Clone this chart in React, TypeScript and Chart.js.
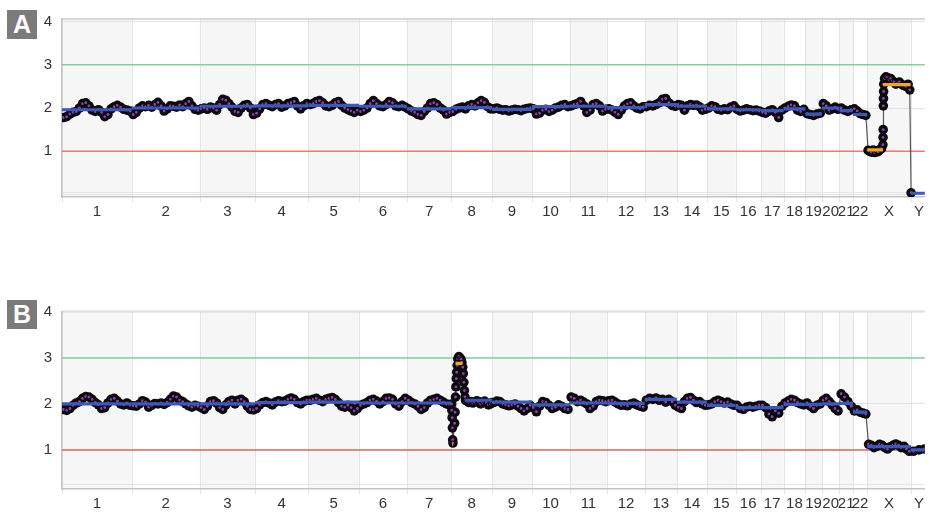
import React, { useEffect, useRef } from 'react';
import { Chart, registerables } from 'chart.js';

Chart.register(...registerables);

// ---------- axis data ----------
const chromLabels = ['1','2','3','4','5','6','7','8','9','10','11','12','13','14','15','16','17','18','19','20','21','22','X','Y'];
const chromSizes = [249.3,243.2,198.0,191.2,180.9,171.1,159.1,146.4,141.2,135.5,135.0,133.9,115.2,107.3,102.5,90.4,81.2,78.1,59.1,63.0,48.1,51.3,155.3,59.4];
const yTickValues = [0, 1, 2, 3, 4];
const xVisibleMax = 3087;
const gainLevel = 3;
const lossLevel = 1;

// ---------- panel A data (copy number per chromosome) ----------
const copyA: number[][] = [
  [1.78,1.8,1.86,1.9,1.92,2.0,2.1,2.12,2.05,1.95,1.92,1.96,1.9,1.8,1.85,1.98,2.03,2.06,2.02,1.97,1.95,1.93],
  [1.85,1.9,2.0,2.05,2.03,2.06,2.02,2.08,2.13,2.05,1.93,1.98,2.05,2.04,2.02,2.07,2.03,2.1,2.15,2.05,1.97,1.95],
  [1.98,2.0,1.97,2.02,2.0,1.95,2.08,2.2,2.18,2.1,2.02,1.92,1.9,2.0,2.06,2.08,2.0,1.85],
  [1.88,1.98,2.08,2.1,2.06,2.03,2.08,2.1,2.02,2.05,2.1,2.12,2.15,2.05,1.98,2.05,2.1],
  [2.08,2.1,2.15,2.17,2.12,2.05,2.03,2.06,2.12,2.15,2.06,2.0,1.96,1.93,1.9,1.95],
  [1.92,1.95,2.0,2.1,2.17,2.1,2.05,2.03,2.08,2.15,2.12,2.05,2.03,2.06,2.02],
  [1.98,1.93,1.9,1.85,1.83,1.92,2.0,2.1,2.12,2.08,2.0,1.95,1.86,1.9],
  [1.92,1.97,2.0,2.02,1.98,2.05,2.08,2.05,2.12,2.17,2.13,2.03,1.98],
  [1.98,2.0,1.97,1.95,1.96,1.93,1.95,1.97,1.96,1.94,1.97,1.99,2.0],
  [1.98,1.86,1.88,1.95,1.97,1.92,1.95,2.0,2.02,2.06,2.08,2.03],
  [2.05,2.08,2.1,2.15,2.05,1.9,1.95,2.08,2.1,2.05,1.93,1.97],
  [1.98,1.95,1.9,1.85,1.95,2.05,2.1,2.12,2.05,2.0,1.98,2.03],
  [2.03,2.06,2.05,2.08,2.12,2.2,2.22,2.12,2.06,2.04],
  [2.08,2.06,1.95,2.05,2.08,2.06,2.07,2.03,1.95,1.97],
  [2.0,2.05,2.03,1.97,1.95,1.98,1.96,2.02,2.05],
  [1.97,1.93,1.95,1.98,1.96,1.94,1.95,1.93],
  [1.9,1.88,1.93,1.96,1.9,1.78,1.95],
  [2.0,2.04,2.07,2.05,1.95,1.92,1.97],
  [1.87,1.85,1.83,1.86,1.88],
  [2.1,2.05,1.95,1.98,2.02,1.97],
  [2.0,1.95,1.92,1.96],
  [1.98,1.93,1.87,1.85,1.83],
  [1.02,1.0,0.98,1.03,0.97,1.0,0.99,1.04,1.06,1.15,1.32,1.5,2.05,2.22,2.38,2.55,2.68,2.72,2.7,2.65,2.68,2.62,2.6,2.55,2.58,2.6,2.55,2.52,2.5,2.55,2.42],
  [0.04],
];
const posXA = [3,9,15,21,27,33,39,45,51,56,56.5,57,57.5,58,58.5,59,62,67,73,78,84,90,96,102,108,115,122,130,138,146,152];
const posYA = [1.5];
const blueA: [string, number, number, number][] = [
  ['1',0,249.3,1.96],['2',0,243.2,2.0],['3',0,198,2.04],['4',0,191.2,2.05],['5',0,180.9,2.06],
  ['6',0,171.1,2.04],['7',0,159.1,1.98],['8',0,146.4,2.01],['9',0,141.2,1.97],['10',0,135.5,2.03],
  ['11',0,135,2.04],['12',0,133.9,2.01],['13',0,115.2,2.08],['14',0,107.3,2.04],['15',0,102.5,1.98],
  ['16',0,90.4,1.96],['17',0,81.2,1.94],['18',0,78.1,1.98],['19',0,59.1,1.86],['20',0,63,2.0],
  ['21',0,48.1,1.94],['22',0,51.3,1.85],['Y',0,59.4,0.03],
];
const orangeA: [string, number, number, number][] = [
  ['X',0,56,1.03],['X',56,155.3,2.54],
];

// ---------- panel B data ----------
const copyB: number[][] = [
  [1.88,1.86,1.9,1.97,2.02,2.05,2.12,2.16,2.15,2.1,2.03,1.98,1.9,1.92,2.02,2.1,2.12,2.06,2.0,1.98,2.02,1.97],
  [1.96,1.95,2.0,2.07,2.04,1.93,1.97,2.01,2.0,2.02,1.99,2.03,2.1,2.17,2.15,2.08,2.05,2.0,1.96,1.93,1.97,1.95],
  [1.92,1.88,1.95,2.05,2.07,2.02,1.92,1.88,1.98,2.05,2.08,2.0,2.08,2.1,2.05,1.95,1.88,1.87],
  [1.9,1.98,2.03,2.05,2.02,1.98,2.04,2.07,2.05,2.06,2.1,2.13,2.1,2.03,2.0,2.05,2.08],
  [2.08,2.1,2.12,2.08,2.05,2.1,2.12,2.14,2.1,2.03,1.95,1.93,1.97,1.92,1.85,1.9],
  [1.97,2.0,2.03,2.08,2.1,2.06,2.0,2.05,2.12,2.13,2.1,2.0,1.95,2.05,2.12],
  [2.08,2.03,2.0,1.95,1.88,1.92,2.02,2.08,2.1,2.12,2.08,2.04,2.0,1.98],
  [2.0,1.86,1.7,1.48,1.22,1.15,1.58,1.82,2.15,2.37,2.55,2.69,2.84,2.98,3.03,3.0,2.97,2.9,2.8,2.66,2.47,2.29,2.15,2.08,2.06,2.03,2.05,2.02,2.04,2.07,2.05,2.0,2.03,2.06,2.02,1.98,2.0,2.03],
  [2.03,2.06,2.05,2.0,1.98,1.96,1.98,2.0,1.95,1.9,1.85,1.9,1.97],
  [1.92,1.83,1.95,2.05,2.03,1.97,1.9,1.93,1.98,1.95,1.9,1.88],
  [2.15,2.12,2.05,2.08,2.04,2.0,1.9,1.95,2.05,2.08,2.07,2.05],
  [2.07,2.08,2.04,2.0,1.97,1.98,1.96,2.0,2.02,1.98,1.95,1.93],
  [2.08,2.12,2.1,2.13,2.08,2.1,2.04,2.1,2.05,1.97],
  [1.93,1.9,2.05,2.12,2.14,2.08,2.03,2.05,2.0,1.97],
  [1.98,2.0,2.05,2.08,2.05,2.02,2.04,2.0,1.97],
  [1.97,1.9,1.88,1.93,1.95,1.93,1.95,1.97],
  [1.97,1.92,1.78,1.72,1.85,1.8,1.95],
  [2.02,2.06,2.1,2.08,2.03,2.0,1.98],
  [2.02,1.95,1.9,1.97,2.0],
  [2.08,2.12,2.05,1.98,1.9,1.85],
  [2.22,2.15,2.05,1.95],
  [1.85,1.87,1.82,1.8,1.78],
  [1.12,1.1,1.05,1.08,1.12,1.1,1.05,1.02,1.07,1.1,1.13,1.1,1.05,1.08,1.02,0.97],
  [0.97,1.0,1.02],
];
const pos8B = [1,2,3,4,5,6,12,13.5,15,16.5,18,19.5,21,23,27,31,35,38,41,43,45,47,49,51,56,63,70,77,84,91,98,105,112,119,126,133,140,145];
const blueB: [string, number, number, number][] = [
  ['1',0,249.3,2.0],['2',0,243.2,2.0],['3',0,198,2.0],['4',0,191.2,2.03],['5',0,180.9,2.04],
  ['6',0,171.1,2.02],['7',0,159.1,2.02],['8',50,146.4,2.08],['9',0,141.2,2.04],['10',0,135.5,1.98],
  ['11',0,135,2.02],['12',0,133.9,2.01],['13',0,115.2,2.1],['14',0,107.3,2.04],['15',0,102.5,1.97],
  ['16',0,90.4,1.92],['17',0,81.2,1.92],['18',0,78.1,1.99],['19',0,59.1,1.99],['20',0,63,2.0],
  ['21',0,48.1,2.01],['22',0,51.3,1.82],['X',0,155.3,1.07],['Y',0,59.4,1.0],
];
const orangeB: [string, number, number, number][] = [
  ['8',3.5,6.5,1.12],['8',15,40,2.88],
];

// ---------- helpers ----------
const offsets: number[] = chromSizes.map((_, i) => chromSizes.slice(0, i).reduce((a, b) => a + b, 0));
const centers = offsets.map((o, i) => o + chromSizes[i] / 2);

function buildPoints(values: number[][], positions: Record<string, number[]>) {
  const pts: { x: number; y: number }[] = [];
  values.forEach((vals, i) => {
    const label = chromLabels[i];
    const p = positions[label] || vals.map((_, j) => ((j + 0.5) / vals.length) * chromSizes[i]);
    vals.forEach((v, j) => pts.push({ x: offsets[i] + p[j], y: v }));
  });
  return pts;
}

function segDatasets(segs: [string, number, number, number][], color: string) {
  return segs.map(([c, s, e, v]) => {
    const i = chromLabels.indexOf(c);
    return {
      data: [{ x: offsets[i] + s, y: v }, { x: offsets[i] + e, y: v }],
      showLine: true,
      borderColor: color,
      borderWidth: 3.2,
      pointRadius: 0,
      order: 0,
    };
  });
}

const FONT = "'Liberation Sans', Arial, sans-serif";

const bandPlugin = {
  id: 'bands',
  beforeDraw(chart: any) {
    const { ctx, chartArea, scales } = chart;
    const { top, bottom, left, right } = chartArea;
    const x = scales.x;
    ctx.save();
    offsets.forEach((o, i) => {
      if (i % 2 === 0) {
        const x0 = Math.max(left, x.getPixelForValue(o));
        const x1 = Math.min(right, x.getPixelForValue(o + chromSizes[i]));
        if (x1 > x0) {
          ctx.fillStyle = '#f5f6f5';
          ctx.fillRect(x0, top, x1 - x0, bottom - top);
        }
      }
    });
    ctx.strokeStyle = '#e3e4e8';
    ctx.lineWidth = 1;
    offsets.forEach((o) => {
      const px = Math.round(x.getPixelForValue(o)) + 0.5;
      if (px <= right) {
        ctx.beginPath();
        ctx.moveTo(px, top);
        ctx.lineTo(px, bottom + 5);
        ctx.stroke();
      }
    });
    ctx.strokeStyle = '#e6e6e6';
    ctx.beginPath();
    ctx.moveTo(left, bottom - 4.5);
    ctx.lineTo(right, bottom - 4.5);
    ctx.stroke();
    ctx.strokeStyle = '#d8d8d8';
    ctx.lineWidth = 2;
    ctx.beginPath();
    ctx.moveTo(left, top);
    ctx.lineTo(right, top);
    ctx.stroke();
    ctx.restore();
  },
};

type PanelDef = {
  values: number[][];
  positions: Record<string, number[]>;
  blue: [string, number, number, number][];
  orange: [string, number, number, number][];
  yMin: number;
  yMax: number;
  redColor: string;
  padTop: number;
  xHeight: number;
  height: number;
  top: number;
  letter: string;
};

const panels: PanelDef[] = [
  { values: copyA, positions: { X: posXA, Y: posYA }, blue: blueA, orange: orangeA, yMin: -0.057, yMax: 4.057, redColor: '#ef7a68', padTop: 16, xHeight: 33, height: 230, top: 0, letter: 'A' },
  { values: copyB, positions: { '8': pos8B }, blue: blueB, orange: orangeB, yMin: 0.15, yMax: 4.01, redColor: '#e06464', padTop: 21.5, xHeight: 24, height: 223, top: 290, letter: 'B' },
];

function Panel({ def }: { def: PanelDef }) {
  const ref = useRef<HTMLCanvasElement>(null);
  useEffect(() => {
    const points = buildPoints(def.values, def.positions);
    const chart = new Chart(ref.current as HTMLCanvasElement, {
      type: 'scatter',
      data: {
        datasets: [
          ...segDatasets(def.blue, '#3c58bd'),
          ...segDatasets(def.orange, '#f3a520'),
          {
            data: points,
            showLine: false,
            pointRadius: 2.0,
            pointBorderWidth: 1.1,
            pointBackgroundColor: '#9040b4',
            pointBorderColor: '#0c0c0c',
            order: 1,
          },
          {
            data: points,
            showLine: true,
            borderColor: 'rgba(70,70,70,0.9)',
            borderWidth: 1.2,
            pointRadius: 4.8,
            pointBorderWidth: 0,
            pointBackgroundColor: '#0c0c0c',
            pointBorderColor: '#0c0c0c',
            order: 1.5,
          },
          {
            data: [{ x: 0, y: gainLevel }, { x: xVisibleMax, y: gainLevel }],
            showLine: true, borderColor: '#80d0a0', borderWidth: 1.5, pointRadius: 0, order: 2,
          },
          {
            data: [{ x: 0, y: lossLevel }, { x: xVisibleMax, y: lossLevel }],
            showLine: true, borderColor: def.redColor, borderWidth: 1.5, pointRadius: 0, order: 2,
          },
        ] as any,
      },
      options: {
        animation: false,
        responsive: false,
        maintainAspectRatio: false,
        events: [],
        layout: { padding: { top: def.padTop, left: 0, right: 0, bottom: 0 } },
        plugins: { legend: { display: false }, tooltip: { enabled: false } },
        scales: {
          x: {
            type: 'linear',
            min: 0,
            max: xVisibleMax,
            grid: { display: false, drawTicks: false },
            border: { display: true, color: '#c4c4c4', width: 1.5 },
            afterBuildTicks: (s: any) => { s.ticks = centers.map((v) => ({ value: v })); },
            afterFit: (s: any) => { s.height = def.xHeight; },
            ticks: {
              autoSkip: false, maxRotation: 0, minRotation: 0, padding: 6,
              color: '#333', font: { family: FONT, size: 15 },
              callback: (_v: any, i: number) => chromLabels[i],
            },
          },
          y: {
            type: 'linear',
            min: def.yMin,
            max: def.yMax,
            afterBuildTicks: (s: any) => {
              s.ticks = yTickValues.filter((v) => v >= def.yMin && v <= def.yMax).map((v) => ({ value: v }));
            },
            afterFit: (s: any) => { s.width = 62; },
            grid: { color: '#e2e2e2', drawTicks: false },
            border: { display: true, color: '#c4c4c4', width: 1.5 },
            ticks: {
              padding: 10, color: '#333', font: { family: FONT, size: 15 },
              callback: (v: any) => (v === 0 ? '' : String(v)),
            },
          },
        },
      } as any,
      plugins: [bandPlugin],
    });
    return () => chart.destroy();
  }, []);
  return (
    <>
      <canvas ref={ref} width={930} height={def.height} style={{ position: 'absolute', left: 0, top: def.top, width: 930, height: def.height }} />
      <div style={{ position: 'absolute', left: 7, top: def.top + 10, width: 30, height: 29, background: '#7b7b7b', color: '#fff', fontFamily: FONT, fontWeight: 'bold', fontSize: 25, display: 'flex', alignItems: 'center', justifyContent: 'center', lineHeight: 1 }}>{def.letter}</div>
    </>
  );
}

export default function App() {
  return (
    <div style={{ position: 'fixed', left: 0, top: 0, width: 930, height: 513, background: '#fff', overflow: 'hidden' }}>
      {panels.map((p) => <Panel key={p.letter} def={p} />)}
    </div>
  );
}
